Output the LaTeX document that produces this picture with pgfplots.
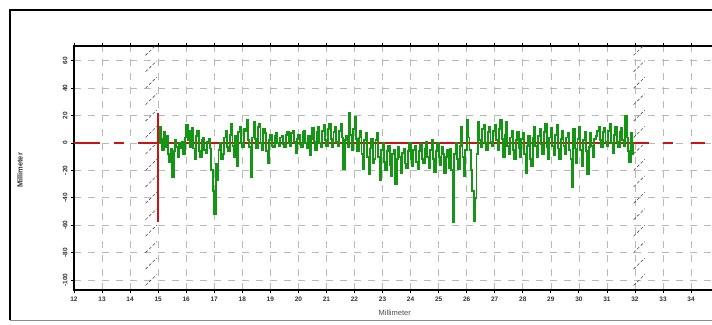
\documentclass[border=0pt]{standalone}
\usepackage{fontspec}
\setmainfont{Liberation Sans}
\usepackage{pgfplots}
\usepackage{pgfplotstable}
\pgfplotsset{compat=1.18}
\definecolor{grn}{RGB}{20,150,20}
\definecolor{rd}{RGB}{200,20,20}
\definecolor{grd}{RGB}{185,185,185}
\pgfplotstableread{
x y
15.00 0
15.05 12
15.10 3
15.15 -5
15.20 8
15.25 -3
15.30 5
15.35 -8
15.40 -14
15.45 -4
15.50 -25
15.55 -6
15.60 2
15.65 -3
15.70 -10
15.75 0
15.80 -4
15.85 1
15.90 -8
15.95 4
16.00 13
16.05 2
16.10 9
16.15 -3
16.20 11
16.25 -4
16.30 -12
16.35 5
16.40 9
16.45 -6
16.50 -10
16.55 2
16.60 4
16.65 -5
16.70 -7
16.75 1
16.80 3
16.85 -4
16.90 -20
16.95 -35
17.00 -52
17.05 -15
17.10 -27
17.15 -5
17.20 0
17.25 -12
17.30 -8
17.35 4
17.40 9
17.45 -3
17.50 -6
17.55 6
17.60 14
17.65 -2
17.70 -10
17.75 5
17.80 -17
17.85 8
17.90 12
17.95 0
18.00 -3
18.05 10
18.10 9
18.15 17
18.20 2
18.25 -3
18.30 -25
18.35 4
18.40 15
18.45 3
18.50 -4
18.55 12
18.60 14
18.65 0
18.70 -5
18.75 10
18.80 7
18.85 -6
18.90 -15
18.95 2
19.00 6
19.05 -2
19.10 -3
19.15 5
19.20 7
19.25 0
19.30 -2
19.35 4
19.40 5
19.45 -1
19.50 -3
19.55 6
19.60 8
19.65 0
19.70 -2
19.75 7
19.80 9
19.85 1
19.90 -7
19.95 3
20.00 6
20.05 -1
20.10 -3
20.15 8
20.20 9
20.25 0
20.30 -4
20.35 5
20.40 -9
20.45 3
20.50 11
20.55 1
20.60 -5
20.65 8
20.70 12
20.75 0
20.80 -3
20.85 9
20.90 13
20.95 2
21.00 -2
21.05 10
21.10 14
21.15 3
21.20 -3
21.25 8
21.30 12
21.35 1
21.40 -2
21.45 9
21.50 14
21.55 4
21.60 -19
21.65 2
21.70 5
21.75 -3
21.80 22
21.85 6
21.90 -5
21.95 10
22.00 19
22.05 3
22.10 -6
22.15 4
22.20 9
22.25 -8
22.30 -19
22.35 2
22.40 7
22.45 -10
22.50 -23
22.55 -4
22.60 3
22.65 -15
22.70 -12
22.75 2
22.80 7
22.85 -10
22.90 -27
22.95 -5
23.00 0
23.05 -14
23.10 -20
23.15 -6
23.20 -2
23.25 -16
23.30 -24
23.35 -8
23.40 -5
23.45 -30
23.50 -12
23.55 -3
23.60 -10
23.65 -22
23.70 -7
23.75 -4
23.80 -15
23.85 -18
23.90 -6
23.95 0
24.00 -12
24.05 -17
24.10 -5
24.15 -2
24.20 -14
24.25 -19
24.30 -6
24.35 -1
24.40 -12
24.45 -15
24.50 -4
24.55 1
24.60 -10
24.65 -18
24.70 -5
24.75 2
24.80 -12
24.85 -21
24.90 -6
24.95 0
25.00 -10
25.05 -16
25.10 -3
25.15 -8
25.20 -22
25.25 -10
25.30 -5
25.35 -18
25.40 -4
25.45 -20
25.50 -58
25.55 -8
25.60 0
25.65 -12
25.70 -19
25.75 -2
25.80 12
25.85 -10
25.90 -24
25.95 -5
26.00 17
26.05 4
26.10 -5
26.15 -20
26.20 -35
26.25 -57
26.30 -40
26.35 -8
26.40 15
26.45 2
26.50 -3
26.55 10
26.60 13
26.65 0
26.70 -5
26.75 8
26.80 12
26.85 1
26.90 -2
26.95 9
27.00 13
27.05 2
27.10 -5
27.15 10
27.20 17
27.25 3
27.30 -10
27.35 6
27.40 15
27.45 -2
27.50 -8
27.55 4
27.60 9
27.65 -5
27.70 -12
27.75 2
27.80 8
27.85 -4
27.90 -10
27.95 3
28.00 7
28.05 -8
28.10 -22
28.15 -2
28.20 5
28.25 -12
28.30 -17
28.35 4
28.40 12
28.45 -2
28.50 -10
28.55 5
28.60 10
28.65 -1
28.70 -8
28.75 8
28.80 14
28.85 -3
28.90 -12
28.95 4
29.00 11
29.05 -2
29.10 -9
29.15 6
29.20 13
29.25 -4
29.30 -12
29.35 3
29.40 9
29.45 -2
29.50 -8
29.55 4
29.60 7
29.65 -5
29.70 -12
29.75 -32
29.80 10
29.85 -4
29.90 -15
29.95 3
30.00 12
30.05 -5
30.10 -17
30.15 2
30.20 8
30.25 -6
30.30 -23
30.35 -3
30.40 7
30.45 -2
30.50 -10
30.55 3
30.60 5
30.65 9
30.70 12
30.75 2
30.80 -3
30.85 8
30.90 11
30.95 1
31.00 -2
31.05 9
31.10 14
31.15 0
31.20 -7
31.25 6
31.30 12
31.35 1
31.40 -3
31.45 8
31.50 11
31.55 2
31.60 -2
31.65 20
31.70 4
31.75 -6
31.80 -14
31.85 7
31.90 -8
31.93 0
}\signal
\begin{document}
\begin{tikzpicture}[x=1pt,y=1pt]
\useasboundingbox (0,0) rectangle (712,324);
\clip (0,0) rectangle (712,324);
\draw[line width=1.3pt] (740,314) -- (10,314) -- (10,4);
\draw[line width=1pt, black!45] (10,4) -- (740,4);
\begin{axis}[
  at={(74pt,34pt)}, anchor=south west,
  scale only axis, width=660pt, height=244pt,
  xmin=12, xmax=35.53, ymin=-107.3, ymax=70.8,
  xtick={12,...,34}, ytick={-100,-80,...,60},
  /pgf/number format/assume math mode=true,
  grid=major,
  major grid style={grd, dash pattern=on 7pt off 7pt, line width=0.6pt},
  axis line style={line width=1.4pt},
  tick align=outside, major tick length=3pt,
  tick style={black, line width=0.8pt},
  xticklabel style={font=\fontsize{6.5}{6.5}\selectfont\bfseries, black!80},
  yticklabel style={font=\fontsize{6.5}{6.5}\selectfont\bfseries, black!80, rotate=90, anchor=south},
  xlabel={Millimeter}, ylabel={Millimeter},
  xlabel style={font=\fontsize{7.5}{8}\selectfont, black!70, at={(axis description cs:0.486,-0.094)}, anchor=center},
  ylabel style={font=\fontsize{7.5}{8}\selectfont\bfseries, black!80, at={(axis description cs:-0.082,0.49)}, anchor=center},
  clip=true,
]
% zero reference line
\addplot[rd, line width=1.2pt, dash pattern=on 26pt off 14pt on 10pt off 14pt] coordinates {(12,0) (15,0)};
\addplot[rd, line width=1.2pt] coordinates {(15,0) (32,0)};
\addplot[rd, line width=1.2pt, dash pattern=on 14pt off 14pt on 10pt off 18pt] coordinates {(32,0) (35.53,0)};
% signal
\addplot[grn, line width=1.9pt, const plot] table[x=x,y=y] {\signal};
% start marker
\addplot[rd, line width=1.3pt] coordinates {(15,22) (15,-58)};
% hatched section limits
\addplot[black!70, line width=0.6pt, densely dashed, unbounded coords=jump] coordinates {
(14.55,-104) (14.95,-96) (14.55,nan)
(14.55,-92) (14.95,-84) (14.55,nan)
(14.55,-80) (14.95,-72) (14.55,nan)
(14.55,-68) (14.95,-60) (14.55,nan)
(14.55,-56) (14.95,-48) (14.55,nan)
(14.55,-44) (14.95,-36) (14.55,nan)
(14.55,-32) (14.95,-24) (14.55,nan)
(14.55,-20) (14.95,-12) (14.55,nan)
(14.55,-8) (14.95,0) (14.55,nan)
(14.55,4) (14.95,12) (14.55,nan)
(14.55,16) (14.95,24) (14.55,nan)
(14.55,28) (14.95,36) (14.55,nan)
(14.55,40) (14.95,48) (14.55,nan)
(14.55,52) (14.95,60) (14.55,nan)
(14.55,64) (14.95,72)
};
\addplot[black!70, line width=0.6pt, densely dashed, unbounded coords=jump] coordinates {
(31.95,-104) (32.35,-96) (31.95,nan)
(31.95,-92) (32.35,-84) (31.95,nan)
(31.95,-80) (32.35,-72) (31.95,nan)
(31.95,-68) (32.35,-60) (31.95,nan)
(31.95,-56) (32.35,-48) (31.95,nan)
(31.95,-44) (32.35,-36) (31.95,nan)
(31.95,-32) (32.35,-24) (31.95,nan)
(31.95,-20) (32.35,-12) (31.95,nan)
(31.95,-8) (32.35,0) (31.95,nan)
(31.95,4) (32.35,12) (31.95,nan)
(31.95,16) (32.35,24) (31.95,nan)
(31.95,28) (32.35,36) (31.95,nan)
(31.95,40) (32.35,48) (31.95,nan)
(31.95,52) (32.35,60) (31.95,nan)
(31.95,64) (32.35,72)
};
\end{axis}
\end{tikzpicture}
\end{document}
